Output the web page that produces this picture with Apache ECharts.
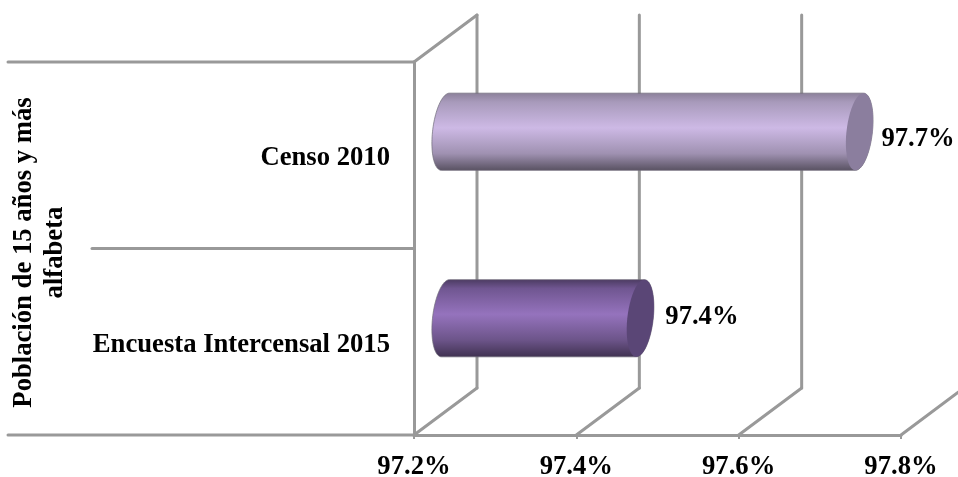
<!DOCTYPE html>
<html><head><meta charset="utf-8">
<style>html,body{margin:0;padding:0;background:#fff}#c{width:958px;height:477px}</style>
<script src="https://cdn.jsdelivr.net/npm/echarts@6/dist/echarts.min.js"></script>
</head><body><div id="c"></div>
<script>
const categories = ['Encuesta Intercensal 2015', 'Censo 2010'];
const values = [97.44, 97.71];
const xTicks = [97.2, 97.4, 97.6, 97.8];
const axisTitle = 'Población de 15 años y más\nalfabeta';

const FONT = '"Liberation Serif","Times New Roman",serif';
const FS = 26.67;
const GREY = '#999999';
const DX = 63, DY = -47;
const RX = 13, SKEW = 4;
const labelShift = [[12, -1], [9, 7]];
const looks = [
  {stops: ['#4a3a60', '#705691', '#9573bd', '#6c5489', '#3f3150'], cap: '#5a4676'},
  {stops: ['#8a7f98', '#a89abb', '#cdb9e5', '#9f91b1', '#575060'], cap: '#8b7e9e'}
];

function ellipsePts(cx, cy, ry, from, to) {
  const pts = [];
  for (let i = 0; i <= 48; i++) {
    const t = from + (to - from) * i / 48;
    const u = Math.sin(t), v = Math.cos(t);
    pts.push([cx + RX * v + SKEW * u, cy - ry * u]);
  }
  return pts;
}
const lineEl = (x1, y1, x2, y2) => ({
  type: 'line', shape: {x1, y1, x2, y2},
  style: {stroke: GREY, lineWidth: 3, lineCap: 'round'}
});

function renderWall(params, api) {
  const v = api.value(0);
  const top = api.coord([v, 1]), bot = api.coord([v, 0]);
  const band = api.size([0, 1])[1];
  const yTop = top[1] - band / 2, yBot = bot[1] + band / 2;
  const x = top[0];
  const children = [
    lineEl(x + DX, yTop + DY, x + DX, yBot + DY),
    lineEl(x, yBot, x + DX, yBot + DY)
  ];
  if (params.dataIndex === 0) children.push(lineEl(x, yTop, x + DX, yTop + DY));
  return {type: 'group', children};
}

function renderSide(params, api) {
  const p = api.coord([xTicks[0], api.value(0)]);
  const band = api.size([0, 1])[1];
  const i = params.dataIndex;
  const children = [lineEl(i === 0 ? 92 : 8, p[1] - band / 2, p[0], p[1] - band / 2)];
  if (i === 0) children.push(lineEl(8, p[1] + band / 2, p[0], p[1] + band / 2));
  return {type: 'group', children};
}

function renderBar(params, api) {
  const i = params.dataIndex;
  const look = looks[i];
  const start = api.coord([xTicks[0], i]);
  const end = api.coord([api.value(0), i]);
  const ry = api.size([0, 1])[1] * 0.207;
  const cy = start[1] + DY / 2;
  const x0 = start[0] + DX / 2, x1 = end[0] + DX / 2;
  const left = ellipsePts(x0, cy, ry, Math.PI / 2, Math.PI * 1.5);
  const right = ellipsePts(x1, cy, ry, -Math.PI / 2, Math.PI / 2);
  const fill = {
    type: 'linear', x: 0, y: 0, x2: 0, y2: 1,
    colorStops: [0, .12, .45, .78, 1].map((o, k) => ({offset: o, color: look.stops[k]}))
  };
  return {
    type: 'group',
    children: [
      {type: 'polygon', shape: {points: left.concat(right)}, style: {fill, stroke: 'rgba(110,105,120,.7)', lineWidth: 1}},
      {type: 'polygon', shape: {points: ellipsePts(x1, cy, ry, 0, Math.PI * 2)}, style: {fill: look.cap}},
      {type: 'text', x: x1 + RX + labelShift[i][0], y: cy + labelShift[i][1],
        style: {text: api.value(0).toFixed(1) + '%', font: 'bold ' + FS + 'px ' + FONT, fill: '#000', textAlign: 'left', textVerticalAlign: 'middle'}}
    ]
  };
}

const chart = echarts.init(document.getElementById('c'), null, {renderer: 'canvas'});
chart.setOption({
  animation: false,
  backgroundColor: '#fff',
  grid: {left: 414, right: 57, top: 62, bottom: 42, containLabel: false, outerBoundsMode: 'none'},
  xAxis: {
    type: 'value', min: 97.2, max: 97.8, interval: 0.2,
    splitLine: {show: false},
    axisLine: {show: true, lineStyle: {color: GREY, width: 3}},
    axisTick: {show: true, length: 4, lineStyle: {color: GREY, width: 2}},
    axisLabel: {margin: 19, color: '#000', fontFamily: FONT, fontWeight: 'bold', fontSize: FS,
      formatter: v => v.toFixed(1) + '%'}
  },
  yAxis: {
    type: 'category', data: categories,
    name: axisTitle, nameLocation: 'middle', nameRotate: 90, nameGap: 343,
    nameTextStyle: {color: '#000', fontFamily: FONT, fontWeight: 'bold', fontSize: FS, lineHeight: 31, padding: [0, 8, 0, 0]},
    axisLine: {show: true, lineStyle: {color: GREY, width: 3}},
    axisTick: {show: false},
    axisLabel: {margin: 24, formatter: v => '{c|' + v + '}',
      rich: {c: {color: '#000', fontFamily: FONT, fontWeight: 'bold', fontSize: FS, padding: [6, 0, 0, 0]}}}
  },
  series: [
    {type: 'custom', name: 'walls', coordinateSystem: 'cartesian2d', clip: false, silent: true,
      encode: {x: 0}, data: xTicks.map(v => [v]), renderItem: renderWall, z: 1},
    {type: 'custom', name: 'side', coordinateSystem: 'cartesian2d', clip: false, silent: true,
      encode: {y: 0}, data: categories.map((c, i) => [i]), renderItem: renderSide, z: 1},
    {type: 'custom', name: 'Población', coordinateSystem: 'cartesian2d', clip: false, silent: true,
      encode: {x: 0}, data: values.map(v => [v]), renderItem: renderBar, z: 3}
  ]
});
</script></body></html>
